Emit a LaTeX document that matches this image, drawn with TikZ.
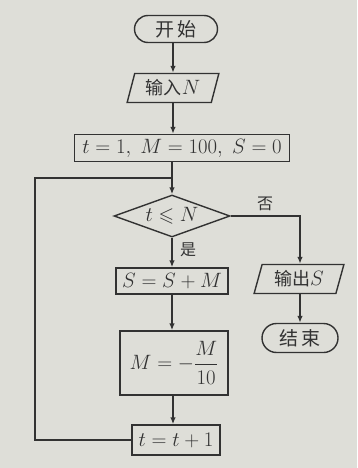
\documentclass[tikz,border=0pt]{standalone}
\usepackage{amsmath,amssymb}
\usepackage{fontspec}
\newfontfamily\cjk{Noto Sans CJK SC}
\usetikzlibrary{shapes.geometric,shapes.misc,arrows.meta}
\definecolor{bgc}{RGB}{222,222,216}
\definecolor{ink}{RGB}{50,50,50}
\begin{document}
\begin{tikzpicture}[x=1pt,y=-1pt,
  line width=1.4pt, draw=ink, text=ink,
  every node/.style={inner sep=0pt, font=\fontsize{20}{22}\selectfont},
  term/.style={draw, rounded rectangle, minimum width=83pt, minimum height=27pt},
  io/.style={draw, trapezium, trapezium left angle=72, trapezium right angle=108, trapezium stretches=true, minimum height=29pt},
  proc/.style={draw, rectangle},
  dec/.style={draw, diamond, minimum width=116pt, minimum height=42pt},
  arr/.style={-{Latex[length=7pt,width=5.5pt]}},
  cj/.style={font=\cjk\fontsize{19}{21}\selectfont},
  lbl/.style={font=\cjk\fontsize{16}{18}\selectfont}
]
\fill[bgc] (0,0) rectangle (357,468);
\useasboundingbox (0,0) rectangle (357,468);

\node[term, cj] (start) at (176,29) {开\,始};
\node[io, minimum width=92pt] (in) at (173,88) {{\cjk\fontsize{18}{20}\selectfont 输入}$N$};
\node[proc, minimum width=215pt, minimum height=27pt] (init) at (182,148) {$t=1,\; M=100,\; S=0$};
\coordinate (j) at (172,178);
\coordinate (c) at (173,0);
\node[dec] (d) at (172,216) {};
\node (dt) at (d) {$t\leqslant N$};
\node[proc, minimum width=112pt, minimum height=26pt] (s1) at (172,281) {$S=S+M$};
\node[proc, minimum width=108pt, minimum height=64pt] (m1) at (174,363) {$M=-\dfrac{M}{10}$};
\node[proc, minimum width=88pt, minimum height=30pt] (t1) at (176,440) {$t=t+1$};
\node[io, minimum width=90pt] (out) at (299,279) {{\cjk\fontsize{18}{20}\selectfont 输出}$S$};
\node[term, minimum width=76pt, minimum height=29pt, cj] (end) at (300,338) {结\,束};
\coordinate (L) at (35,440);
\coordinate (R) at (300,216);

\draw[arr] (start.south -| c) -- (in.north -| c);
\draw[arr] (in.south -| c) -- (init.north -| c);
\draw (init.south -| j) -- (j);
\draw[arr] (j) -- (d.north);
\draw[arr] (d.east) -- (R) -- (out.north -| R);
\node[lbl] (no) at (265,204) {否};
\node[lbl] (yes) at (188,250) {是};
\draw[arr] (d.south) -- (s1.north -| d.south);
\draw[arr] (s1.south -| d.south) -- (m1.north -| d.south);
\draw[arr] (m1.south -| c) -- (t1.north -| c);
\draw (t1.west) -- (L) |- (j);
\draw[arr] (out.south -| R) -- (end.north -| R);
\end{tikzpicture}
\end{document}
